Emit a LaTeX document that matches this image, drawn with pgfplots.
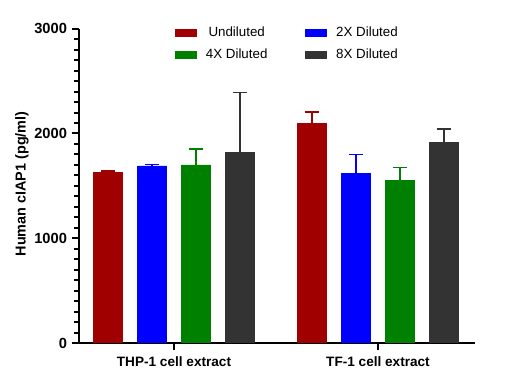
\documentclass[border=0pt]{standalone}
\usepackage{fontspec}
\setmainfont{Liberation Sans}
\usepackage{pgfplots}
\pgfplotsset{compat=1.18}
\definecolor{cR}{HTML}{A00000}
\definecolor{cB}{HTML}{0000FF}
\definecolor{cG}{HTML}{008000}
\definecolor{cK}{HTML}{333333}
\pgfplotsset{
  eb/.style={fill=#1, draw=#1, line width=0.1pt,
    error bars/error bar style={line width=1.1pt, draw=#1, solid},
    error bars/error mark=|,
    error bars/error mark options={line width=1.1pt, draw=#1, mark size=5.25pt, solid}}
}
\begin{document}
\begin{tikzpicture}
\useasboundingbox (0,0) rectangle (389.25pt,291.75pt);
\begin{axis}[
  at={(59.25pt,34.5pt)}, anchor=south west,
  scale only axis, width=297pt, height=235.7pt,
  xmin=-0.4657, xmax=1.4755, ymin=0, ymax=3000,
  axis lines*=left,
  axis line style={line width=1.5pt},
  ybar=11.25pt, bar width=21.75pt,
  xtick={0,1}, xticklabels={THP-1 cell extract, TF-1 cell extract},
  ytick={0,1000,2000,3000}, minor y tick num=9,
  tick align=outside,
  major tick length=5.5pt, minor tick length=3.5pt,
  every tick/.style={black, line width=1.5pt},
  /pgf/number format/assume math mode=true,
  /pgf/number format/1000 sep={},
  yticklabel style={font=\fontsize{11}{13}\selectfont\bfseries},
  xticklabel style={font=\fontsize{10.2}{12}\selectfont\bfseries, yshift=-1.5pt},
  ylabel={Human cIAP1 (pg/ml)},
  ylabel style={font=\fontsize{10.8}{12}\selectfont\bfseries,
    at={(axis description cs:-0.144,0.506)}, anchor=center, rotate=0},
  legend columns=2,
  legend style={draw=none, fill=none, at={(0.232,1.025)}, anchor=north west,
    font=\fontsize{10}{12}\selectfont, row sep=4pt,
    /tikz/every even column/.append style={column sep=26.5pt}},
  legend image code/.code={\fill[#1] (0pt,-2.6pt) rectangle (15.75pt,2.6pt); \path (21pt,0pt);},
  error bars/y dir=plus, error bars/y explicit,
]
\addplot[eb=cR] coordinates {(0,1632) +- (0,12) (1,2096) +- (0,111)};
\addplot[eb=cB] coordinates {(0,1692) +- (0,13) (1,1622) +- (0,179)};
\addplot[eb=cG] coordinates {(0,1701) +- (0,153) (1,1555) +- (0,121)};
\addplot[eb=cK] coordinates {(0,1823) +- (0,569) (1,1918) +- (0,127)};
\legend{Undiluted, 2X Diluted, 4X Diluted, 8X Diluted}
\end{axis}
\end{tikzpicture}
\end{document}
